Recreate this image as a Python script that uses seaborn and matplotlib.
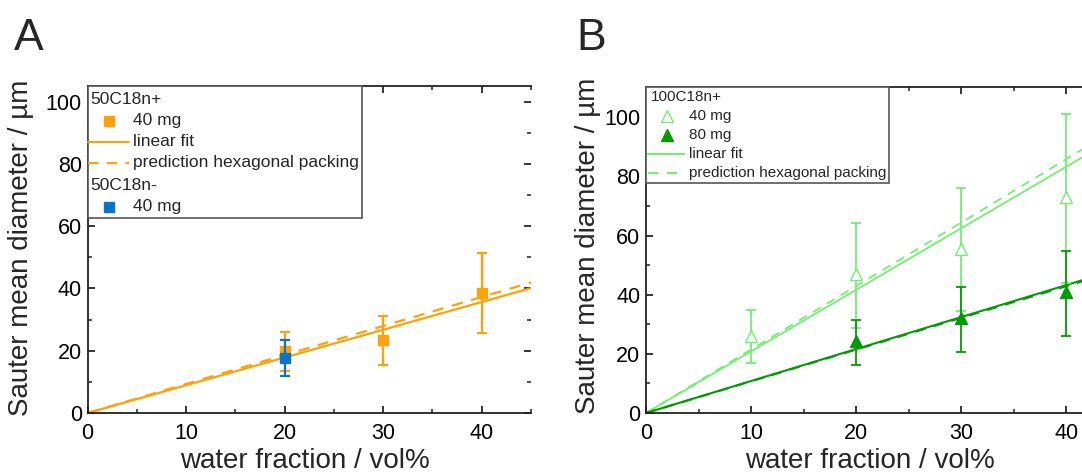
import matplotlib
matplotlib.use('Agg')
import matplotlib.pyplot as plt
from matplotlib.lines import Line2D
from matplotlib.patches import Rectangle
import matplotlib.ticker as ticker
import seaborn as sns

sns.set_style('ticks')
plt.rcParams['font.family'] = ['Liberation Sans', 'DejaVu Sans']

# ---- panel A data: 50C18n+ / 50C18n-
a_pos_x = [20, 30, 40]
a_pos_y = [20.0, 23.5, 38.5]
a_pos_lo = [13.5, 15.5, 25.6]
a_pos_hi = [26.0, 31.3, 51.3]
a_neg_x = [20]
a_neg_y = [17.8]
a_neg_lo = [11.8]
a_neg_hi = [23.3]
a_fit_x = [0, 45]
a_fit_y = [0, 40.1]
a_pred_x = [0, 45]
a_pred_y = [0, 41.9]

# ---- panel B data: 100C18n+
b40_x = [10, 20, 30, 40]
b40_y = [26.0, 47.0, 55.5, 73.0]
b40_lo = [16.8, 28.8, 34.5, 43.8]
b40_hi = [34.8, 64.3, 76.0, 101.2]
b80_x = [20, 30, 40]
b80_y = [24.3, 32.0, 40.8]
b80_lo = [16.3, 20.5, 26.1]
b80_hi = [31.5, 42.7, 54.6]
b40_fit_x = [0, 42]
b40_fit_y = [0, 87.4]
b40_pred_x = [0, 42]
b40_pred_y = [0, 90.1]
b80_fit_x = [0, 42]
b80_fit_y = [0, 45.4]
b80_pred_x = [0, 42]
b80_pred_y = [0, 45.0]

ORANGE = '#FFA10A'
BLUE = '#0A74C8'
LGREEN = '#72EE72'
DGREEN = '#059A05'

W, H = 1082, 474
fig = plt.figure(figsize=(W / 100, H / 100), dpi=100)

def fx(x):
  return x / W

def fy(y):
  return 1 - y / H

axA = fig.add_axes([fx(87.5), fy(413), (531 - 87.5) / W, (413 - 86) / H])
axB = fig.add_axes([fx(646), fy(413), (W - 646) / W, (413 - 87) / H])


def errpts(ax, x, y, lo, hi, color, marker, mfc, ms, lw, z):
  yerr = [[v - l for v, l in zip(y, lo)], [h - v for v, h in zip(y, hi)]]
  ax.errorbar(x, y, yerr=yerr, fmt='none', ecolor=color, elinewidth=lw,
              capsize=3.5, capthick=lw, zorder=z)
  ax.plot(x, y, linestyle='none', marker=marker, ms=ms, mfc=mfc, mec=color,
          mew=1.0, zorder=z + 0.5)


# panel A
sns.lineplot(x=a_fit_x, y=a_fit_y, ax=axA, color=ORANGE, lw=1.6, zorder=2)
sns.lineplot(x=a_pred_x, y=a_pred_y, ax=axA, color=ORANGE, lw=1.6, zorder=2,
             linestyle=(0, (5, 4)))
errpts(axA, a_pos_x, a_pos_y, a_pos_lo, a_pos_hi, ORANGE, 's', ORANGE, 7, 1.6, 3)
errpts(axA, a_neg_x, a_neg_y, a_neg_lo, a_neg_hi, BLUE, 's', BLUE, 7, 1.6, 4)
axA.set_xlim(0, 45)
axA.set_ylim(0, 105)
axA.xaxis.set_major_locator(ticker.MultipleLocator(10))
axA.xaxis.set_minor_locator(ticker.MultipleLocator(5))
axA.yaxis.set_major_locator(ticker.MultipleLocator(20))
axA.yaxis.set_minor_locator(ticker.MultipleLocator(10))
axA.spines['right'].set_visible(False)

# panel B
sns.lineplot(x=b40_fit_x, y=b40_fit_y, ax=axB, color=LGREEN, lw=1.3, zorder=2)
sns.lineplot(x=b40_pred_x, y=b40_pred_y, ax=axB, color=LGREEN, lw=1.3, zorder=2,
             linestyle=(0, (5, 4)))
sns.lineplot(x=b80_fit_x, y=b80_fit_y, ax=axB, color=DGREEN, lw=1.5, zorder=2)
sns.lineplot(x=b80_pred_x, y=b80_pred_y, ax=axB, color=DGREEN, lw=1.5, zorder=2,
             linestyle=(0, (5, 4)))
errpts(axB, b40_x, b40_y, b40_lo, b40_hi, LGREEN, '^', 'white', 9, 1.3, 3)
errpts(axB, b80_x, b80_y, b80_lo, b80_hi, DGREEN, '^', DGREEN, 9, 1.3, 4)
axB.set_xlim(0, 41.5)
axB.set_ylim(0, 110.2)
axB.xaxis.set_major_locator(ticker.MultipleLocator(10))
axB.xaxis.set_minor_locator(ticker.MultipleLocator(5))
axB.yaxis.set_major_locator(ticker.MultipleLocator(20))
axB.yaxis.set_minor_locator(ticker.MultipleLocator(10))
axB.spines['right'].set_visible(False)

for ax, right in ((axA, True), (axB, False)):
  for s in ax.spines.values():
    s.set_linewidth(1.3)
    s.set_color('#222222')
  ax.tick_params(which='both', direction='in', top=True, right=right,
                 width=1.1, color='#222222')
  ax.tick_params(which='major', length=5, labelsize=15.5, colors='black')
  ax.tick_params(which='minor', length=3)
  ax.tick_params(axis='x', which='major', pad=7)
  ax.tick_params(axis='y', which='major', pad=4)
  ax.set_xlabel('')
  ax.set_ylabel('')

# axis labels and panel letters
fig.text(fx(305), fy(468), 'water fraction / vol%', fontsize=20, ha='center', va='baseline')
fig.text(fx(870), fy(468), 'water fraction / vol%', fontsize=20, ha='center', va='baseline')
fig.text(fx(21), fy(248), 'Sauter mean diameter / µm', fontsize=20, ha='center',
         va='center', rotation=90)
fig.text(fx(588), fy(246), 'Sauter mean diameter / µm', fontsize=20, ha='center',
         va='center', rotation=90)
fig.text(fx(14), fy(38), 'A', fontsize=32, ha='left', va='center')
fig.text(fx(576), fy(38), 'B', fontsize=32, ha='left', va='center')

# legends (drawn as boxes in figure pixels)
legA_rows = ['50C18n+', '40 mg', 'linear fit', 'prediction hexagonal packing', '50C18n-', '40 mg']
legA_kind = ['title', 'sq_o', 'solid_o', 'dash_o', 'title', 'sq_b']
legA_y = [99, 121, 142, 163, 186, 207]
legB_rows = ['100C18n+', '40 mg', '80 mg', 'linear fit', 'prediction hexagonal packing']
legB_kind = ['title', 'tri_open', 'tri_full', 'solid_g', 'dash_g']
legB_y = [97, 116, 135, 154, 173]


def draw_legend(x0, y0, x1, y1, rows, kinds, ys, title_x, mark_x, line_x, text_x, fs, ms):
  fig.add_artist(Rectangle((fx(x0), fy(y1)), (x1 - x0) / W, (y1 - y0) / H,
                           transform=fig.transFigure, facecolor='white',
                           edgecolor='#555555', lw=1.2, zorder=5))
  for label, kind, y in zip(rows, kinds, ys):
    if kind == 'title':
      fig.text(fx(title_x), fy(y), label, fontsize=fs, ha='left', va='center', zorder=6)
      continue
    fig.text(fx(text_x), fy(y), label, fontsize=fs, ha='left', va='center', zorder=6)
    if kind in ('sq_o', 'sq_b', 'tri_open', 'tri_full'):
      c = {'sq_o': ORANGE, 'sq_b': BLUE, 'tri_open': LGREEN, 'tri_full': DGREEN}[kind]
      m = 's' if kind.startswith('sq') else '^'
      mfc = 'white' if kind == 'tri_open' else c
      fig.add_artist(Line2D([fx(mark_x)], [fy(y)], marker=m, ms=ms, mfc=mfc, mec=c,
                            linestyle='none', transform=fig.transFigure, zorder=6))
    else:
      c = ORANGE if kind.endswith('_o') else LGREEN
      ls = '-' if kind.startswith('solid') else (0, (5, 4))
      fig.add_artist(Line2D([fx(line_x[0]), fx(line_x[1])], [fy(y), fy(y)], color=c,
                            lw=1.5, linestyle=ls, transform=fig.transFigure, zorder=6))


draw_legend(87.5, 86, 362, 218, legA_rows, legA_kind, legA_y, 90, 109, (88, 129), 133, 12.5, 7)
draw_legend(646, 87, 889, 183, legB_rows, legB_kind, legB_y, 651, 667, (648, 684), 689, 11, 9)

fig.savefig('out.png', dpi=100)
plt.close()
